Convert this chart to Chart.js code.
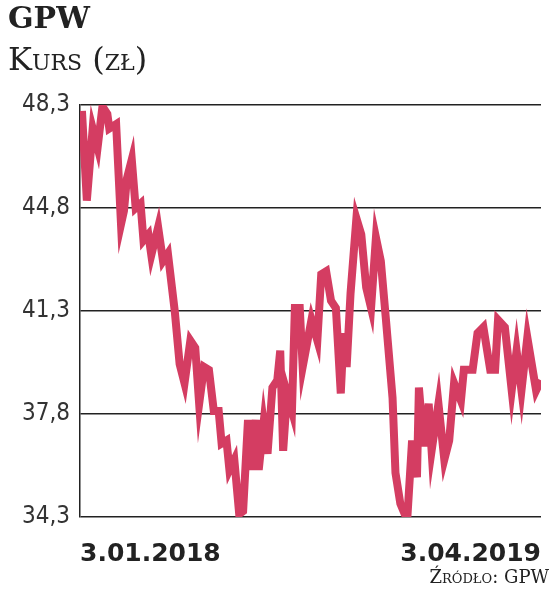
<!DOCTYPE html>
<html>
<head>
<meta charset="utf-8">
<script src="https://cdn.jsdelivr.net/npm/chart.js@4"></script>
<style>
  body { margin: 0; background: #fff; font-family: "DejaVu Sans", sans-serif; }
  #wrap { position: relative; width: 555px; height: 593px; }
  canvas { position: absolute; left: 0; top: 0; }
  .title { position: absolute; left: 8px; top: 0px; font: bold 30px "DejaVu Serif", serif; color: #222; }
  .sub { position: absolute; left: 8px; top: 40px; font: 32px "DejaVu Serif", serif; color: #222; font-variant: small-caps; }
  .src { position: absolute; right: 6px; top: 566px; font: 18px "DejaVu Serif", serif; color: #222; font-variant: small-caps; }
</style>
</head>
<body>
<div id="wrap">
  <canvas id="c" width="555" height="593"></canvas>
  <div class="title">GPW</div>
  <div class="sub">Kurs (zł)</div>
  <div class="src">Źródło: GPW</div>
</div>
<script>
// session index (approx. trading days from 3.01.2018)
const days = [2,7,13,18,23,28,30,37,42,45,48,53,57,62,65,70,73,80,85,90,97,102,107,113,118,122,127,132,137,142,145,150,153,158,163,167,172,175,180,183,188,192,197,202,205,208,212,217,220,225,228,237,
  243,247,252,257,262,267,270,273,277,283,288,293,298,303,308,313,320,323,328,335,340,345,347,352,357,360,367,373,378,383,390,393,402,407,413,420,425,428,435,442,447,452,458,467,472];
const prices = [48.1,45.05,47.5,46.85,48.25,48.0,47.5,47.65,44.25,44.7,45.8,46.45,44.8,44.95,43.7,43.9,43.2,44.15,43.0,43.25,41.3,39.5,38.85,40.3,40.05,38.15,39.4,39.3,37.9,37.9,36.8,36.9,35.9,36.25,34.4,34.5,37.6,35.9,37.6,35.9,37.5,36.45,38.7,38.95,39.95,36.55,38.5,37.9,41.4,41.4,39.4,41.0,
  40.3,42.55,42.65,41.65,41.4,38.5,40.55,39.4,41.9,44.45,43.9,42.1,41.4,43.8,43.0,41.1,38.35,35.8,34.75,34.2,36.9,35.65,38.7,36.7,38.15,36.55,38.15,36.25,36.9,38.85,38.25,39.3,39.3,40.55,40.75,39.3,39.3,41.0,40.75,38.6,39.95,38.6,40.4,38.6,38.95];
const xLabels = ['3.01.2018', '3.04.2019'];
const yMin = 34.3, yMax = 48.3, yStep = 3.5;

new Chart(document.getElementById('c'), {
  type: 'line',
  data: {
    datasets: [{
      data: days.map((d, i) => ({ x: d, y: prices[i] })),
      borderColor: '#d43d62',
      borderWidth: 8,
      pointRadius: 0,
      tension: 0
    }]
  },
  options: {
    responsive: false,
    animation: false,
    layout: { padding: { top: 105, right: 0, bottom: 18, left: 0 } },
    plugins: { legend: { display: false }, tooltip: { enabled: false } },
    scales: {
      x: {
        type: 'linear',
        min: 0, max: 472,
        afterBuildTicks: s => { s.ticks = [{ value: 0 }, { value: 472 }]; },
        afterFit: s => { s.height = 58; },
        grid: { display: false },
        border: { display: false },
        ticks: {
          align: 'inner',
          maxRotation: 0,
          padding: 14,
          color: '#222',
          font: { family: 'DejaVu Sans', size: 25, weight: 'bold' },
          callback: (v) => v === 0 ? xLabels[0] : xLabels[1]
        }
      },
      y: {
        min: yMin, max: yMax,
        afterFit: s => { s.width = 80; },
        afterBuildTicks: s => {
          const t = [];
          for (let v = yMin; v <= yMax + 0.01; v += yStep) t.push({ value: v });
          s.ticks = t;
        },
        grid: { color: '#222', lineWidth: 1.5, drawTicks: false },
        border: { display: true, color: '#222', width: 1.5 },
        ticks: {
          padding: 10,
          color: '#333',
          font: { family: 'DejaVu Sans Condensed', size: 24 },
          callback: v => v.toFixed(1).replace('.', ',')
        }
      }
    }
  }
});
</script>
</body>
</html>
